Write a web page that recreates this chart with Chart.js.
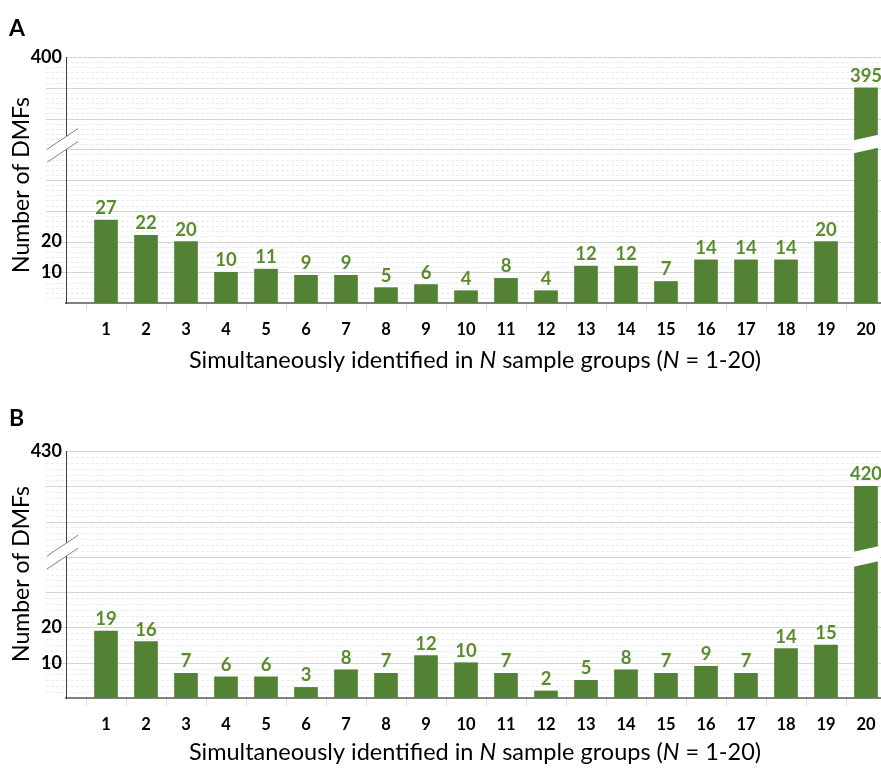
<!DOCTYPE html>
<html>
<head>
<meta charset="utf-8">
<script src="https://cdn.jsdelivr.net/npm/chart.js@4.4.1/dist/chart.umd.min.js"></script>
<style>
  html, body { margin: 0; padding: 0; background: #fff; overflow: hidden; width: 881px; height: 768px; }
  .panel { position: absolute; left: 0; }
  #panelA { top: 0; }
  #panelB { top: 390px; }
</style>
</head>
<body>
<div class="panel" id="panelA"><canvas id="chartA" width="900" height="390"></canvas></div>
<div class="panel" id="panelB"><canvas id="chartB" width="900" height="378"></canvas></div>
<script>
// N = number of sample groups a DMF was found in
const groups = [1, 2, 3, 4, 5, 6, 7, 8, 9, 10, 11, 12, 13, 14, 15, 16, 17, 18, 19, 20];

// panel A counts
const countsA = [27, 22, 20, 10, 11, 9, 9, 5, 6, 4, 8, 4, 12, 12, 7, 14, 14, 14, 20, 395];
// panel B counts
const countsB = [19, 16, 7, 6, 6, 3, 8, 7, 12, 10, 7, 2, 5, 8, 7, 9, 7, 14, 15, 420];

// y values that get a tick label
const yLabelsA = [10, 20, 400];
const yLabelsB = [10, 20, 430];

const FONT = "Lato, 'Open Sans', sans-serif";
const BAR_GREEN = '#548235';
const LABEL_GREEN = '#5a8c2f';

// broken axis: below breakAt the axis is linear, above it the range
// breakValue..topValue is squeezed into breakAt..axisMax
const cfgA = {
  letter: 'A', axisMax: 80, breakAt: 50, breakValue: 385, topValue: 400,
  gapAt: 51.7, gapPx: 13, slashAt: 52,
  padTop: 57, xAxisH: 87, titleY: 360, yTitleY: 185
};
const cfgB = {
  letter: 'B', axisMax: 70, breakAt: 40, breakValue: 400, topValue: 430,
  gapAt: 40.1, gapPx: 15, slashAt: 42,
  padTop: 61, xAxisH: 70, titleY: 362, yTitleY: 184
};

function makeChart(canvasId, counts, yLabels, cfg) {
  const toAxis = v => v <= cfg.breakAt ? v :
    cfg.breakAt + (v - cfg.breakValue) * (cfg.axisMax - cfg.breakAt) / (cfg.topValue - cfg.breakValue);
  const fromAxis = p => p <= cfg.breakAt ? p :
    cfg.breakValue + (p - cfg.breakAt) * (cfg.topValue - cfg.breakValue) / (cfg.axisMax - cfg.breakAt);

  const decor = {
    id: 'decor',
    beforeDraw(chart) {
      const {ctx, chartArea: ca, scales: {y}} = chart;
      ctx.save();
      ctx.lineWidth = 1;
      // dashed minor lines
      ctx.strokeStyle = '#ebebeb';
      ctx.setLineDash([3, 2]);
      const nMinor = cfg.axisMax / 10 * 6;
      for (let k = 1; k < nMinor; k++) {
        if (k % 6 === 0) continue;
        const py = Math.round(y.getPixelForValue(k * 10 / 6)) + 0.5;
        ctx.beginPath(); ctx.moveTo(ca.left - 20, py); ctx.lineTo(ca.right, py); ctx.stroke();
      }
      // solid major lines
      ctx.setLineDash([]);
      ctx.strokeStyle = '#d3d3d3';
      for (let v = 10; v <= cfg.axisMax; v += 10) {
        const py = Math.round(y.getPixelForValue(v)) + 0.5;
        ctx.beginPath();
        ctx.moveTo(v === cfg.axisMax ? ca.left : ca.left - 20, py);
        ctx.lineTo(ca.right, py); ctx.stroke();
      }
      ctx.restore();
    },
    afterDatasetsDraw(chart) {
      const {ctx, chartArea: ca, scales: {y}} = chart;
      const bars = chart.getDatasetMeta(0).data;
      ctx.save();

      // white cut across the tall bar
      const bar = bars[bars.length - 1];
      const half = bar.width / 2;
      const xl = bar.x - half - 2, xr = bar.x + half + 2;
      const yc = y.getPixelForValue(cfg.gapAt);
      const s = 5 / 23, g = cfg.gapPx / 2;
      ctx.fillStyle = '#fff';
      ctx.beginPath();
      ctx.moveTo(xl, yc - g + s * (bar.x - xl));
      ctx.lineTo(xr, yc - g - s * (xr - bar.x));
      ctx.lineTo(xr, yc + g - s * (xr - bar.x));
      ctx.lineTo(xl, yc + g + s * (bar.x - xl));
      ctx.closePath(); ctx.fill();

      // break marks on the y axis
      const ys = y.getPixelForValue(cfg.slashAt);
      const ax = ca.left, k = 0.67, sep = 6.5;
      const yAt = (x, off) => ys + off - k * (x - ax);
      ctx.beginPath();
      ctx.moveTo(ax - 19, yAt(ax - 19, -sep)); ctx.lineTo(ax + 12, yAt(ax + 12, -sep));
      ctx.lineTo(ax + 12, yAt(ax + 12, sep)); ctx.lineTo(ax - 19, yAt(ax - 19, sep));
      ctx.closePath(); ctx.fill();
      ctx.strokeStyle = '#808080'; ctx.lineWidth = 1;
      [-sep, sep].forEach(off => {
        ctx.beginPath();
        ctx.moveTo(ax - 19, yAt(ax - 19, off)); ctx.lineTo(ax + 12, yAt(ax + 12, off));
        ctx.stroke();
      });

      // value labels
      ctx.fillStyle = LABEL_GREEN;
      ctx.font = 'bold 18.5px ' + FONT;
      ctx.textAlign = 'center';
      ctx.textBaseline = 'alphabetic';
      bars.forEach((b, i) => ctx.fillText(String(counts[i]), b.x, b.y - 6));
      ctx.restore();
    },
    afterDraw(chart) {
      const {ctx, chartArea: ca} = chart;
      ctx.save();
      ctx.fillStyle = '#000';
      // panel letter
      ctx.font = 'bold 23px ' + FONT;
      ctx.textAlign = 'left'; ctx.textBaseline = 'alphabetic';
      ctx.fillText(cfg.letter, 9, 36);

      // x title with italic N
      const parts = [
        ['Simultaneously identified in ', false], ['N', true],
        [' sample groups (', false], ['N', true], [' = 1-20)', false]
      ];
      const fontOf = it => (it ? 'italic ' : '') + '23.5px ' + FONT;
      let total = 0;
      parts.forEach(([t, it]) => { ctx.font = fontOf(it); total += ctx.measureText(t).width; });
      let x = 475 - total / 2;
      ctx.textBaseline = 'middle';
      parts.forEach(([t, it]) => {
        ctx.font = fontOf(it);
        ctx.fillText(t, x, cfg.titleY);
        x += ctx.measureText(t).width;
      });

      // y title
      ctx.translate(22, cfg.yTitleY);
      ctx.rotate(-Math.PI / 2);
      ctx.font = '23px ' + FONT;
      ctx.textAlign = 'center';
      ctx.fillText('Number of DMFs', 0, 0);
      ctx.restore();
    }
  };

  return new Chart(document.getElementById(canvasId), {
    type: 'bar',
    data: {
      datasets: [{
        data: groups.map((g, i) => ({x: g, y: toAxis(counts[i])})),
        backgroundColor: BAR_GREEN,
        barThickness: 23
      }]
    },
    options: {
      responsive: false,
      animation: false,
      devicePixelRatio: 1,
      layout: {padding: {top: cfg.padTop, right: 14, left: 0, bottom: 0}},
      plugins: {legend: {display: false}, tooltip: {enabled: false}},
      scales: {
        x: {
          type: 'linear',
          min: 0,
          max: 20.5,
          offset: false,
          afterBuildTicks: scale => { scale.ticks = [0].concat(groups).map(v => ({value: v})); },
          afterFit: scale => { scale.height = cfg.xAxisH; },
          grid: {offset: true, drawOnChartArea: false, tickLength: 7, tickColor: '#d9d9d9'},
          border: {color: '#808080', width: 2},
          ticks: {
            autoSkip: false, maxRotation: 0, padding: 10, color: '#000',
            font: {family: FONT, size: 16.5, weight: 'bold'},
            callback: v => v === 0 ? '' : String(v)
          }
        },
        y: {
          min: 0,
          max: cfg.axisMax,
          afterBuildTicks: scale => {
            const t = [];
            for (let v = 0; v <= cfg.axisMax; v += 10) t.push({value: v});
            scale.ticks = t;
          },
          afterFit: scale => { scale.width = 66; },
          grid: {display: false, drawTicks: false},
          border: {color: '#404040', width: 1},
          ticks: {
            autoSkip: false, padding: 4, color: '#000',
            font: {family: FONT, size: 18, weight: 'bold'},
            callback: v => {
              const real = Math.round(fromAxis(v));
              return yLabels.includes(real) ? String(real) : '';
            }
          }
        }
      }
    },
    plugins: [decor]
  });
}

makeChart('chartA', countsA, yLabelsA, cfgA);
makeChart('chartB', countsB, yLabelsB, cfgB);
</script>
</body>
</html>
